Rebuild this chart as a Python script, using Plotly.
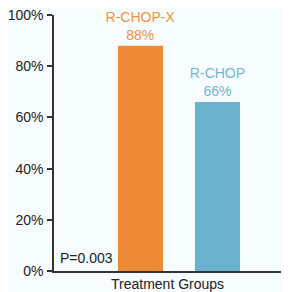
import plotly.graph_objects as go

groups = ["R-CHOP-X", "R-CHOP"]
rates = [0.88, 0.66]
bar_colors = ["#ef8934", "#6ab1cd"]
text_colors = ["#f2913f", "#72b6d1"]
y_ticks = [0, 0.2, 0.4, 0.6, 0.8, 1.0]
p_value = "P=0.003"
x_title = "Treatment Groups"

bg = "#f7fcfe"
fnt = "Liberation Sans, Arial"
fig = go.Figure()
fig.add_trace(go.Bar(
    x=list(range(len(groups))),
    y=rates,
    width=0.585,
    marker=dict(color=bar_colors, line=dict(width=0)),
    text=[f"{g}<br>{round(v*100)}%" for g, v in zip(groups, rates)],
    textposition="outside",
    constraintext="none",
    textfont=dict(color=text_colors, size=14, family=fnt),
    cliponaxis=False,
    hoverinfo="skip",
))
fig.add_annotation(
    x=0, xref="paper", xshift=4, y=0, yref="y", yshift=3,
    text=p_value, showarrow=False, xanchor="left", yanchor="bottom",
    font=dict(size=14, color="#222222", family=fnt),
)
fig.add_annotation(
    x=0.485, xref="paper", y=0, yref="paper", yshift=-3,
    text=x_title, showarrow=False, xanchor="center", yanchor="top",
    font=dict(size=14, color="#222222", family=fnt),
)
# page body has an 8px margin: shrink the figure so that the drawing lands in the 289x292 window
fig.update_layout(
    width=281, height=284,
    margin=dict(l=46, r=0, t=7, b=21, pad=0),
    paper_bgcolor=bg, plot_bgcolor=bg,
    showlegend=False,
    font=dict(family=fnt, size=14, color="#222222"),
    xaxis=dict(
        range=[-1.123, 1.929], showgrid=False, zeroline=False,
        showline=True, linecolor="#333333", linewidth=1.5,
        showticklabels=False, ticks="", automargin=False,
    ),
    yaxis=dict(
        range=[0, 1], showgrid=False, zeroline=False,
        showline=True, linecolor="#333333", linewidth=1.5,
        tickvals=y_ticks, tickformat=".0%", ticks="outside", ticklen=5,
        tickcolor="#333333", tickwidth=1.5,
        ticklabeloverflow="allow", automargin=False, ticklabelstandoff=1,
    ),
)
fig.write_html("out.html")
